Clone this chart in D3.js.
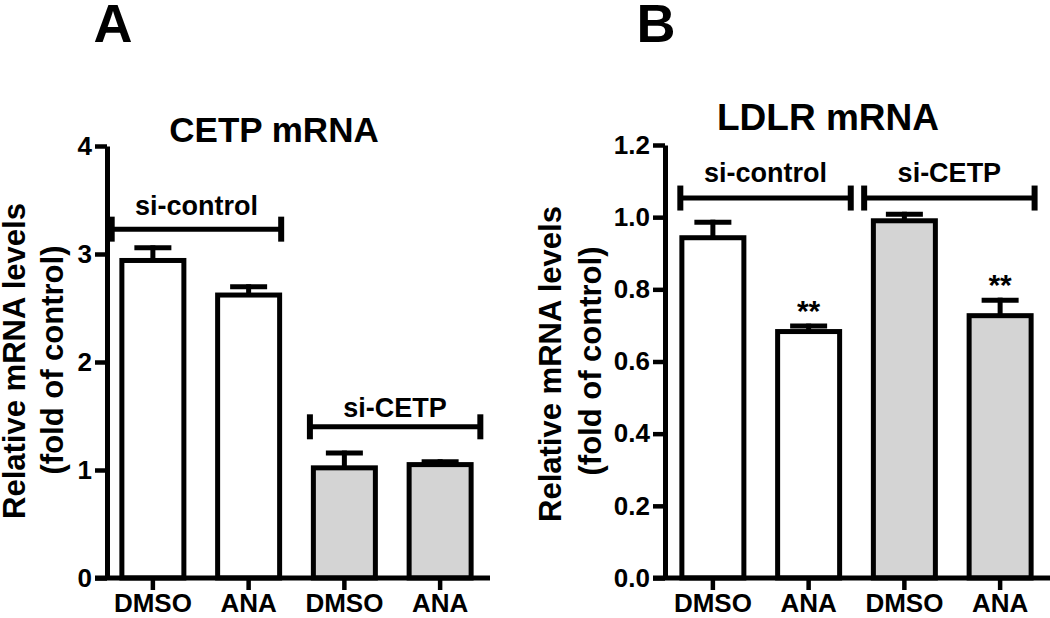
<!DOCTYPE html>
<html><head><meta charset="utf-8">
<script src="https://cdn.jsdelivr.net/npm/d3@7"></script>
<style>
body{margin:0;background:#fff}
svg{display:block}
text{font-family:"Liberation Sans",Arial,sans-serif;font-weight:bold;fill:#000}
</style>
</head><body>
<svg id="c" width="1050" height="618"></svg>
<script>
// ---------- data ----------
const categories = ["DMSO", "ANA", "DMSO", "ANA"];
const groupOf = ["si-control", "si-control", "si-CETP", "si-CETP"];
const groupNames = ["si-control", "si-CETP"];
const cetpMean = [2.94, 2.62, 1.02, 1.05];
const cetpSem = [0.14, 0.10, 0.16, 0.05];
const cetpSig = ["", "", "", ""];
const ldlrMean = [0.943, 0.683, 0.990, 0.727];
const ldlrSem = [0.050, 0.022, 0.025, 0.050];
const ldlrSig = ["", "**", "", "**"];
const cetpTicks = [0, 1, 2, 3, 4];
const ldlrTicks = [0, 0.2, 0.4, 0.6, 0.8, 1.0, 1.2];
const panelLetters = ["A", "B"];
const panelTitles = ["CETP mRNA", "LDLR mRNA"];
const yTitle = ["Relative mRNA levels", "(fold of control)"];

// ---------- layout ----------
const svg = d3.select("#c");
const SW = 5;
const FONT = '"Liberation Sans",Arial,sans-serif';
const fills = {"si-control": "#ffffff", "si-CETP": "#d4d4d4"};

const panels = [
  {mean: cetpMean, sem: cetpSem, sig: cetpSig, ticks: cetpTicks, fmt: d3.format("d"),
   yDomain: [0, 4], yRange: [578, 146], yAxisX: 107, xRange: [105, 488], axisEnd: 490,
   letter: {x: 113, y: 42}, title: {x: 274, y: 142, size: 35},
   ytitle: [{x: 25, y: 361}, {x: 63, y: 360}],
   brackets: [{g: 0, a: -0.43, b: 1.34, v: 3.23, ty: 14}, {g: 1, a: 1.64, b: 3.42, v: 1.40, ty: 10}]},
  {mean: ldlrMean, sem: ldlrSem, sig: ldlrSig, ticks: ldlrTicks, fmt: d3.format(".1f"),
   yDomain: [0, 1.2], yRange: [578, 145], yAxisX: 665, xRange: [665, 1048], axisEnd: 1050,
   letter: {x: 656, y: 42}, title: {x: 828, y: 130, size: 37},
   ytitle: [{x: 561, y: 364}, {x: 601, y: 361}],
   brackets: [{g: 0, a: -0.34, b: 1.44, v: 1.053, ty: 16}, {g: 1, a: 1.58, b: 3.36, v: 1.053, ty: 16}]}
];

panels.forEach((p, pi) => {
  const g = svg.append("g");
  const y = d3.scaleLinear().domain(p.yDomain).range(p.yRange);
  const idx = d3.range(categories.length);
  const x = d3.scaleBand().domain(idx).range(p.xRange).paddingInner(0.3525).paddingOuter(0.17625);
  const cx = i => x(i) + x.bandwidth() / 2;
  const step = x.step();
  const xi = t => cx(0) + t * step; // fractional category index -> px

  // bars
  g.selectAll("rect.bar").data(idx).join("rect")
    .attr("x", i => x(i)).attr("width", x.bandwidth())
    .attr("y", i => y(p.mean[i])).attr("height", i => y(0) - y(p.mean[i]))
    .attr("fill", i => fills[groupOf[i]]).attr("stroke", "#000").attr("stroke-width", SW);

  // error bars
  idx.forEach(i => {
    const top = y(p.mean[i] + p.sem[i]);
    g.append("line").attr("x1", cx(i)).attr("x2", cx(i))
      .attr("y1", y(p.mean[i])).attr("y2", top).attr("stroke", "#000").attr("stroke-width", SW);
    g.append("line").attr("x1", cx(i) - 18.5).attr("x2", cx(i) + 18.5)
      .attr("y1", top + 2.5).attr("y2", top + 2.5).attr("stroke", "#000").attr("stroke-width", SW);
    if (p.sig[i]) {
      g.append("text").attr("x", cx(i)).attr("y", top - 3).attr("text-anchor", "middle")
        .style("font-size", "30px").text(p.sig[i]);
    }
  });

  // y axis
  const ya = g.append("g").attr("transform", `translate(${p.yAxisX},0)`)
    .call(d3.axisLeft(y).tickValues(p.ticks).tickFormat(p.fmt).tickSize(12).tickPadding(3).tickSizeOuter(0));
  ya.select(".domain").attr("stroke-width", SW).attr("stroke", "#000");
  ya.selectAll(".tick line").attr("stroke-width", 4.5).attr("stroke", "#000");
  ya.selectAll(".tick text").style("font-size", "26px").style("font-family", FONT).style("font-weight", "bold").attr("fill", "#000");

  // x axis
  const xa = g.append("g").attr("transform", `translate(0,${y(0)})`)
    .call(d3.axisBottom(x).tickFormat(i => categories[i]).tickSize(12).tickPadding(4).tickSizeOuter(0));
  xa.select(".domain").remove();
  xa.selectAll(".tick line").attr("stroke-width", 4.5).attr("stroke", "#000");
  xa.selectAll(".tick text").style("font-size", "26px").style("font-family", FONT).style("font-weight", "bold").attr("fill", "#000");
  g.append("line").attr("x1", p.yAxisX - 12).attr("x2", p.axisEnd)
    .attr("y1", y(0)).attr("y2", y(0)).attr("stroke", "#000").attr("stroke-width", SW);

  // group brackets
  p.brackets.forEach(b => {
    const by = y(b.v), x1 = xi(b.a), x2 = xi(b.b);
    g.append("line").attr("x1", x1).attr("x2", x2).attr("y1", by).attr("y2", by)
      .attr("stroke", "#000").attr("stroke-width", SW);
    [x1, x2].forEach(xx => g.append("line").attr("x1", xx).attr("x2", xx)
      .attr("y1", by - 12.5).attr("y2", by + 12.5).attr("stroke", "#000").attr("stroke-width", 6));
    g.append("text").attr("x", (x1 + x2) / 2).attr("y", by - b.ty).attr("text-anchor", "middle")
      .style("font-size", "27px").text(groupNames[b.g]);
  });

  // titles
  g.append("text").attr("x", p.letter.x).attr("y", p.letter.y).attr("text-anchor", "middle")
    .style("font-size", "54px").text(panelLetters[pi]);
  g.append("text").attr("x", p.title.x).attr("y", p.title.y).attr("text-anchor", "middle")
    .style("font-size", p.title.size + "px").text(panelTitles[pi]);
  yTitle.forEach((t, k) => {
    g.append("text").attr("transform", `translate(${p.ytitle[k].x},${p.ytitle[k].y}) rotate(-90)`)
      .attr("text-anchor", "middle").style("font-size", "31px").text(t);
  });
});
</script>
</body></html>
